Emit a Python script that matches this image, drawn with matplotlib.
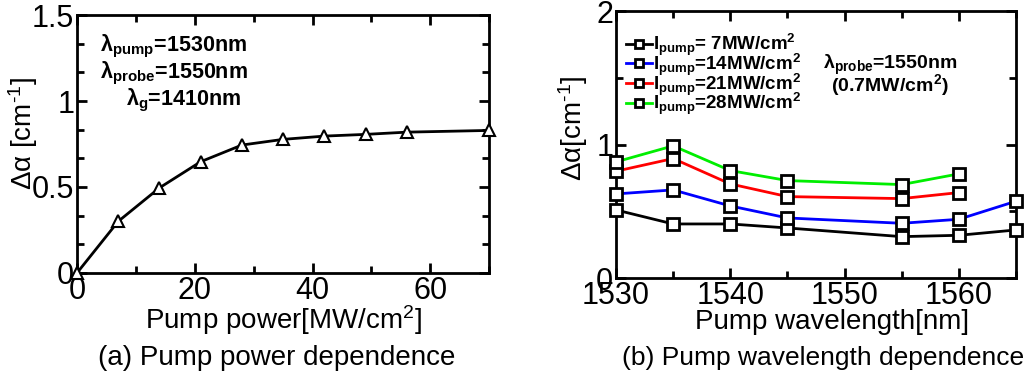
import matplotlib
matplotlib.use("Agg")
import matplotlib.pyplot as plt
from matplotlib.ticker import MultipleLocator

plt.rcParams['font.family'] = ['Liberation Sans', 'DejaVu Sans']
plt.rcParams['mathtext.fontset'] = 'custom'
plt.rcParams['mathtext.rm'] = 'Liberation Sans'
plt.rcParams['mathtext.it'] = 'Liberation Sans:italic'
plt.rcParams['mathtext.bf'] = 'Liberation Sans:bold'

# (a) pump power dependence
power = [0, 7, 14, 21, 28, 35, 42, 49, 56, 70]
dalpha_power = [0, 0.30, 0.495, 0.647, 0.744, 0.777, 0.796, 0.806, 0.819, 0.829]

# (b) pump wavelength dependence
wl_long = [1530, 1535, 1540, 1545, 1555, 1560, 1565]
wl_short = [1530, 1535, 1540, 1545, 1555, 1560]
d7 = [0.51, 0.405, 0.405, 0.375, 0.31, 0.32, 0.36]
d14 = [0.63, 0.66, 0.54, 0.45, 0.41, 0.44, 0.575]
d21 = [0.80, 0.895, 0.705, 0.61, 0.595, 0.64]
d28 = [0.87, 0.99, 0.805, 0.73, 0.70, 0.78]
series_labels = [' 7', '14', '21', '28']

fig = plt.figure(figsize=(10.36, 3.76), dpi=100)

def style(ax):
    for s in ax.spines.values():
        s.set_linewidth(2)
    ax.tick_params(which='both', direction='in', top=True, right=True, width=2)
    ax.tick_params(which='major', length=7, labelsize=22, pad=2)
    ax.tick_params(which='minor', length=5)

ax1 = fig.add_axes([0.0743, 0.274, 0.398, 0.686])
ax1.plot(power, dalpha_power, color='black', lw=2, marker='^', ms=9,
         mfc='white', mec='black', mew=1.5, clip_on=False, zorder=3)
ax1.set_xlim(0, 70)
ax1.set_ylim(0, 1.5)
ax1.xaxis.set_major_locator(MultipleLocator(20))
ax1.xaxis.set_minor_locator(MultipleLocator(10))
ax1.yaxis.set_minor_locator(MultipleLocator(0.5 / 3))
ax1.set_yticks([0, 0.5, 1, 1.5])
ax1.set_yticklabels(['0', '0.5', '1', '1.5'])
style(ax1)
ax1.set_xlabel('Pump power[MW/cm$^2$]', fontsize=20, labelpad=-2)
ax1.set_ylabel(r'Δα [cm$^{\text{-1}}$]', fontsize=20)
ax1.yaxis.set_label_coords(-0.09, 0.54)
ann = dict(transform=ax1.transAxes, fontsize=15.5, fontweight='bold')
ax1.text(0.055, 0.86, r'λ$_\mathbf{pump}$=1530nm', **ann)
ax1.text(0.055, 0.755, r'λ$_\mathbf{probe}$=1550nm', **ann)
ax1.text(0.12, 0.65, r'λ$_\mathbf{g}$=1410nm', **ann)

ax2 = fig.add_axes([0.5946, 0.2606, 0.386, 0.710])
colors = ['black', 'blue', 'red', '#00ee00']
xs = [wl_long, wl_long, wl_short, wl_short]
ys = [d7, d14, d21, d28]
for x, y, c, lab in zip(xs, ys, colors, series_labels):
    ax2.plot(x, y, color=c, lw=2, marker='s', ms=8, mfc='white', mec='black',
             mew=2, clip_on=False, zorder=3,
             label=r'I$_\mathbf{pump}$=' + lab + r'MW/cm$^\mathbf{2}$')
ax2.set_xlim(1530, 1565)
ax2.set_ylim(0, 2)
ax2.xaxis.set_major_locator(MultipleLocator(10))
ax2.xaxis.set_minor_locator(MultipleLocator(5))
ax2.yaxis.set_major_locator(MultipleLocator(1))
ax2.yaxis.set_minor_locator(MultipleLocator(0.5))
style(ax2)
ax2.set_xlabel('Pump wavelength[nm]', fontsize=20)
ax2.xaxis.set_label_coords(0.54, -0.115)
ax2.set_ylabel(r'Δα[cm$^{\text{-1}}$]', fontsize=20)
ax2.yaxis.set_label_coords(-0.065, 0.56)
leg = ax2.legend(loc='upper left', bbox_to_anchor=(0.005, 0.95), frameon=False,
                 prop={'size': 13.5, 'weight': 'bold'}, handlelength=1.4,
                 handletextpad=0.05, labelspacing=-0.35, borderaxespad=0,
                 markerscale=0.7)
ax2.text(0.685, 0.783, r'λ$_\mathbf{probe}$=1550nm', transform=ax2.transAxes,
         fontsize=14, fontweight='bold', ha='center')
ax2.text(0.685, 0.70, r'(0.7MW/cm$^\mathbf{2}$)', transform=ax2.transAxes,
         fontsize=14, fontweight='bold', ha='center')

fig.text(0.267, 0.03, '(a) Pump power dependence', fontsize=20, ha='center')
fig.text(0.794, 0.03, '(b) Pump wavelength dependence', fontsize=19, ha='center')

fig.savefig('out.png', dpi=100)
